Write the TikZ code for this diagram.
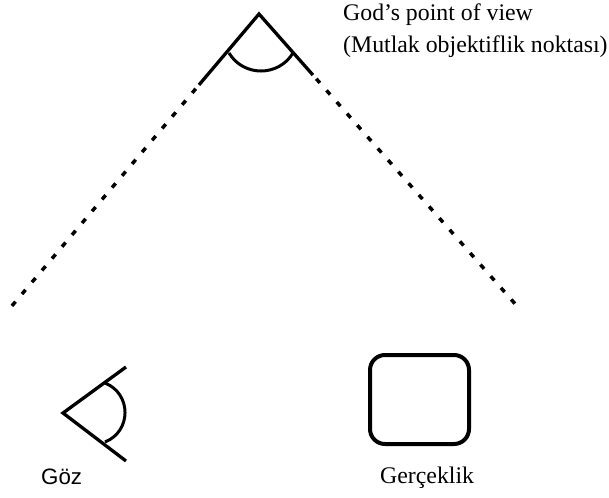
\documentclass[tikz,border=0pt]{standalone}
\usepackage{fontspec}
\setmainfont{Liberation Serif}
\newfontfamily\arialf{Liberation Sans}
\usetikzlibrary{calc}
\begin{document}
\begin{tikzpicture}[x=1pt,y=-1pt,
  thickline/.style={line width=3.3pt},
  dotline/.style={line width=3.5pt, dash pattern=on 5.5pt off 10pt, dash phase=-5pt},
  lbl/.style={inner sep=0pt, anchor=base west},
  serifbig/.style={font=\fontsize{23.8}{28}\selectfont},
  sanslbl/.style={font=\arialf\fontsize{22.3}{26}\selectfont}]
\useasboundingbox[fill=white] (0,0) rectangle (609,497);
% God's viewpoint
\coordinate (apex) at (259,14);
\coordinate (lend) at (11,307);
\coordinate (rend) at (517,306);
\coordinate (ls) at ($(apex)!0.242!(lend)$);
\coordinate (rs) at ($(apex)!0.209!(rend)$);
\draw[thickline, line join=miter] (ls) -- (apex) -- (rs);
\draw[dotline] (ls) -- (lend);
\draw[dotline] (rs) -- (rend);
\coordinate (a1) at (229,53);
\coordinate (a2) at (293,53);
\draw[line width=3pt] (a1) .. controls (243.5,77) and (278.5,77) .. (a2);
\node[lbl, serifbig] (god1) at (343,21) {God{\char39}s point of view};
\node[lbl, serifbig] (god2) at (343,53) {(Mutlak objektiflik noktası)};
% Eye
\coordinate (ev) at (63,413);
\coordinate (eu) at (126,367);
\coordinate (ed) at (126,461);
\draw[thickline, line join=miter] (eu) -- (ev) -- (ed);
\coordinate (e1) at (105,383);
\coordinate (e2) at (105,442);
\draw[line width=3pt] (e1) .. controls (131.7,393.7) and (131.7,431.3) .. (e2);
\node[lbl, sanslbl] (goz) at (41,484) {Göz};
% Reality
\node[draw, line width=4pt, rounded corners=15pt, minimum width=99pt, minimum height=89pt, inner sep=0pt] (real) at (419.5,399.5) {};
\node[lbl, serifbig] (ger) at (380,483) {Gerçeklik};
\end{tikzpicture}
\end{document}
